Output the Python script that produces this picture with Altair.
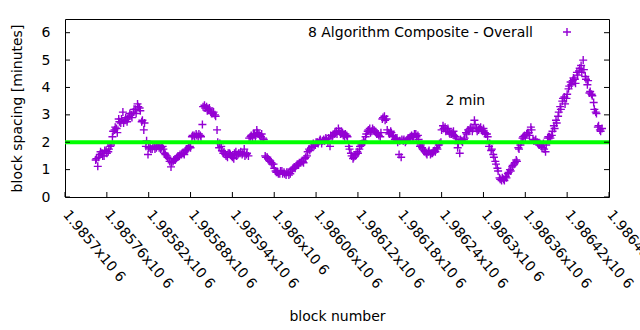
import altair as alt
import pandas as pd

# ---- data ----
# two interleaved runs of blocks (every 3rd block, and the block after each)
first_block_a = 1985744
first_block_b = 1985745
block_step = 3
spacing_a = [
    1.35, 1.12, 1.55, 1.6, 1.5, 1.7, 1.65, 1.85, 2.2, 2.45,
    2.5, 2.85, 2.7, 3.1, 2.8, 2.75, 2.95, 3.0, 3.1, 3.2,
    3.4, 3.25, 2.75, 2.45, 1.85, 1.55, 1.8, 1.75, 1.85, 1.8,
    1.9, 1.75, 1.85, 1.6, 1.5, 1.4, 1.1, 1.3, 1.35, 1.45,
    1.5, 1.55, 1.6, 1.7, 1.75, 1.85, 2.2, 2.25, 2.3, 2.2,
    2.25, 2.65, 3.35, 3.3, 3.2, 3.1, 3.05, 3.0, 2.45, 1.8,
    1.85, 1.6, 1.55, 1.45, 1.6, 1.5, 1.4, 1.65, 1.55, 1.6,
    1.55, 1.75, 1.55, 1.5, 2.2, 2.15, 2.3, 2.45, 2.3, 2.2,
    2.15, 1.5, 1.45, 1.35, 1.25, 1.2, 0.95, 0.9, 0.85, 0.95,
    0.9, 0.8, 0.9, 0.85, 1.0, 1.1, 1.15, 1.2, 1.25, 1.3,
    1.4, 1.5, 1.75, 1.8, 1.95, 1.9, 2.0, 2.05, 1.95, 2.1,
    2.15, 2.0, 1.85, 2.2, 2.3, 2.4, 2.5, 2.3, 2.35, 2.2,
    2.25, 1.85, 1.6, 1.4, 1.5, 1.65, 1.75, 1.9, 2.05, 2.2,
    2.4, 2.5, 2.4, 2.45, 2.35, 2.3, 2.2, 2.85, 2.95, 2.85,
    2.35, 2.4, 2.25, 2.1, 2.15, 1.55, 1.45, 2.05, 2.0, 2.1,
    2.15, 2.25, 2.2, 2.3, 2.25, 1.85, 1.8, 1.7, 1.6, 1.65,
    1.55, 1.6, 1.7, 1.8, 1.9, 2.0, 2.6, 2.55, 2.45, 2.35,
    2.3, 2.4, 2.2, 1.8, 1.6, 2.05, 2.1, 2.35, 2.45, 2.5,
    2.4, 2.8, 2.5, 2.45, 2.55, 2.4, 2.35, 2.3, 1.85, 1.7,
    1.55, 1.3, 1.05, 0.7, 0.6, 0.65, 0.75, 0.85, 1.0, 1.1,
    1.2, 1.35, 1.8, 1.9, 2.15, 2.25, 2.3, 2.35, 2.55, 2.1,
    2.05, 2.0, 1.9, 1.85, 1.95, 1.65, 2.15, 2.2, 2.25, 2.6,
    2.8, 2.95, 3.3, 3.5, 3.65, 3.6, 3.95, 4.2, 4.25, 4.3,
    4.55, 4.6, 4.8, 5.0, 4.4, 4.1, 3.8, 3.75, 3.45, 3.1,
    2.55, 2.45, 2.5,
]
spacing_b = [
    1.4, 1.45, 1.65, 1.5, 1.7, 1.6, 1.75, 1.9, 2.4, 2.55,
    2.35, 2.75, 2.85, 2.7, 2.9, 2.85, 3.05, 2.9, 3.2, 3.05,
    3.3, 3.15, 2.8, 2.7, 2.05, 1.8, 1.75, 1.85, 1.75, 1.85,
    1.8, 1.8, 1.75, 1.55, 1.45, 1.3, 1.25, 1.35, 1.4, 1.5,
    1.55, 1.6, 1.55, 1.75, 1.8, 1.8, 2.25, 2.2, 2.25, 2.3,
    2.2, 3.3, 3.25, 3.15, 3.25, 3.05, 3.1, 2.95, 2.0, 1.95,
    1.7, 1.65, 1.5, 1.6, 1.55, 1.45, 1.6, 1.5, 1.6, 1.65,
    1.6, 1.5, 1.6, 2.15, 2.25, 2.3, 2.2, 2.35, 2.25, 2.3,
    2.1, 1.45, 1.4, 1.3, 1.2, 1.05, 0.9, 0.85, 0.95, 0.85,
    0.85, 0.9, 0.8, 0.95, 1.05, 1.05, 1.2, 1.25, 1.3, 1.25,
    1.45, 1.65, 1.7, 1.85, 1.85, 2.0, 1.95, 2.1, 2.05, 2.05,
    2.1, 2.15, 2.25, 2.25, 2.35, 2.3, 2.4, 2.4, 2.25, 2.3,
    2.2, 1.75, 1.5, 1.45, 1.55, 1.6, 1.85, 1.95, 2.0, 2.3,
    2.45, 2.35, 2.5, 2.4, 2.3, 2.25, 2.35, 2.9, 2.8, 2.45,
    2.3, 2.35, 2.2, 2.15, 2.0, 2.05, 2.1, 2.1, 2.05, 2.15,
    2.2, 2.2, 2.3, 2.2, 2.1, 1.9, 1.75, 1.65, 1.55, 1.7,
    1.6, 1.65, 1.65, 1.75, 1.95, 2.45, 2.5, 2.4, 2.5, 2.3,
    2.35, 2.25, 2.15, 1.95, 2.1, 2.0, 2.15, 2.3, 2.4, 2.55,
    2.5, 2.65, 2.4, 2.5, 2.45, 2.5, 2.3, 2.2, 1.95, 1.75,
    1.45, 1.2, 0.95, 0.65, 0.7, 0.6, 0.7, 0.9, 0.95, 1.15,
    1.25, 1.3, 1.75, 2.0, 2.2, 2.15, 2.35, 2.25, 2.45, 2.05,
    2.1, 1.95, 1.95, 1.8, 1.75, 1.9, 2.2, 2.15, 2.4, 2.5,
    2.7, 3.1, 3.2, 3.6, 3.4, 3.75, 4.05, 4.1, 4.35, 4.15,
    4.45, 4.7, 4.55, 4.65, 4.3, 4.25, 3.85, 3.7, 3.2, 3.05,
    2.6, 2.4,
]
blocks_a = [first_block_a + block_step * i for i in range(len(spacing_a))]
blocks_b = [first_block_b + block_step * i for i in range(len(spacing_b))]

x_domain = [1985700, 1986480]
y_domain = [0, 6.5]
x_ticks = [1985700, 1985760, 1985820, 1985880, 1985940, 1986000, 1986060,
           1986120, 1986180, 1986240, 1986300, 1986360, 1986420, 1986480]
y_ticks = [0, 1, 2, 3, 4, 5, 6]
target_minutes = [2]
note_text = ["2 min"]
note_x = [1986274]
note_y = [3.5]
series_name = "8 Algorithm Composite - Overall"

PURPLE = "#9400d3"
GREEN = "#00ff00"
FONT = "DejaVu Sans"
PLUS = "M-1,0L1,0M0,-1L0,1"
W, H = 544, 178

xs = alt.Scale(domain=x_domain, nice=False, zero=False)
ys = alt.Scale(domain=y_domain, nice=False, zero=True)
x_axis = alt.Axis(
    title="block number", values=x_ticks,
    labelExpr="format(datum.value / 1000000, '.6~g') + 'x10 6'",
    labelAngle=50, labelAlign="left", labelBaseline="middle",
    labelPadding=15, ticks=False, tickSize=0, domain=False, grid=False,
    labelOverlap=False, labelFlush=False, labelBound=False,
    titleY=119, titleBaseline="middle", titleAnchor="middle")
y_axis = alt.Axis(
    title="block spacing [minutes]", values=y_ticks, format="d",
    labelPadding=15, ticks=False, tickSize=0, domain=False, grid=False,
    titleX=-48, titleBaseline="middle")

pts = pd.DataFrame({"block": blocks_a + blocks_b, "spacing": spacing_a + spacing_b})
points = alt.Chart(pts).mark_point(
    shape=PLUS, filled=False, size=64, strokeWidth=1.4, color=PURPLE, opacity=1
).encode(
    x=alt.X("block:Q", scale=xs, axis=x_axis, title="block number"),
    y=alt.Y("spacing:Q", scale=ys, axis=y_axis, title="block spacing [minutes]"),
)

target = alt.Chart(pd.DataFrame({"spacing": target_minutes})).mark_rule(
    color=GREEN, strokeWidth=4
).encode(y=alt.Y("spacing:Q", scale=ys, axis=y_axis, title="block spacing [minutes]"))

ydf = pd.DataFrame({"spacing": y_ticks})
ytick_left = alt.Chart(ydf).mark_rule(color="black", strokeWidth=1).encode(
    y=alt.Y("spacing:Q", scale=ys, axis=y_axis, title="block spacing [minutes]"),
    x=alt.value(0), x2=alt.value(5))
ytick_right = alt.Chart(ydf).mark_rule(color="black", strokeWidth=1).encode(
    y=alt.Y("spacing:Q", scale=ys, axis=y_axis, title="block spacing [minutes]"),
    x=alt.value(W), x2=alt.value(W - 5))
xtick_bottom = alt.Chart(pd.DataFrame({"block": x_ticks})).mark_rule(
    color="black", strokeWidth=1).encode(
    x=alt.X("block:Q", scale=xs, axis=x_axis, title="block number"),
    y=alt.value(H), y2=alt.value(H - 5))

note = alt.Chart(pd.DataFrame({"t": note_text, "block": note_x, "spacing": note_y})).mark_text(
    font=FONT, fontSize=14, color="black", align="center", baseline="middle"
).encode(x=alt.X("block:Q", scale=xs, axis=x_axis, title="block number"),
         y=alt.Y("spacing:Q", scale=ys, axis=y_axis, title="block spacing [minutes]"),
         text="t:N")

leg_df = pd.DataFrame({"t": [series_name]})
leg_text = alt.Chart(leg_df).mark_text(
    font=FONT, fontSize=14, color="black", align="right", baseline="middle"
).encode(x=alt.value(468), y=alt.value(13.5), text="t:N")
leg_sym = alt.Chart(leg_df).mark_point(
    shape=PLUS, filled=False, size=64, strokeWidth=1.4, color=PURPLE, opacity=1
).encode(x=alt.value(502), y=alt.value(13))

chart = alt.layer(
    points, target, ytick_left, ytick_right, xtick_bottom, note, leg_text, leg_sym
).properties(
    width=W, height=H,
    autosize=alt.AutoSizeParams(type="none"),
    padding={"left": 65, "top": 19, "right": 31, "bottom": 133},
    background="white",
).configure_view(
    stroke="black", strokeWidth=1
).configure_axis(
    labelFont=FONT, labelFontSize=14, labelColor="black",
    titleFont=FONT, titleFontSize=14, titleColor="black", titleFontWeight="normal",
)

chart.save("out.html", embed_options={"renderer": "svg", "actions": False})
